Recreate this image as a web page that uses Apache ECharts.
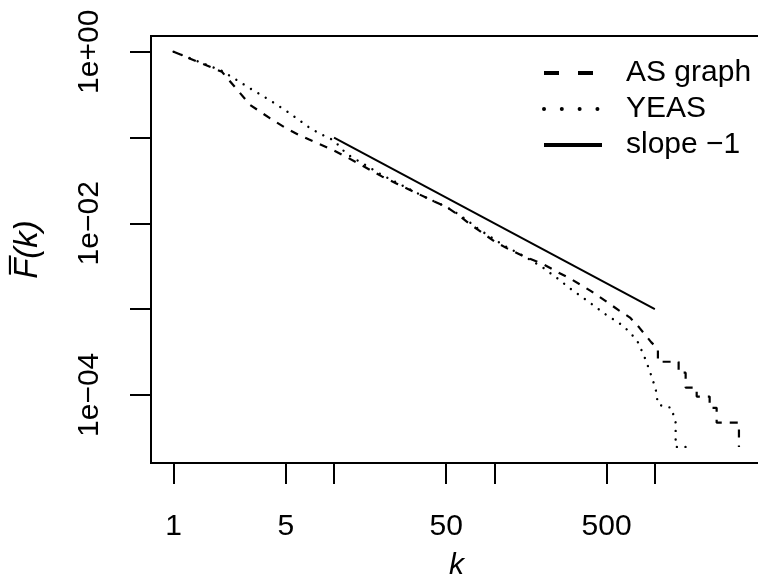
<!DOCTYPE html>
<html><head><meta charset="utf-8">
<script src="https://cdn.jsdelivr.net/npm/echarts@6/dist/echarts.min.js"></script>
<style>html,body{margin:0;padding:0;background:#fff}#c{width:758px;height:581px}</style>
</head><body><div id="c"></div>
<script>
// AS graph complementary CDF (k, F)
const kAS = [1,2,3,4,5,6,7,8,10,12,15,20,25,30,40,50,60,70,80,100,120,150,200,250,300,400,500,600,700,800,951,1045,1045,1407,1407,1556,1556,1823,1823,2196,2196,2428,2428,3344,3344];
const fAS = [1,0.584,0.240,0.167,0.129,0.108,0.0948,0.0851,0.0705,0.0592,0.0471,0.0350,0.0286,0.0243,0.0188,0.0156,0.0124,0.00987,0.00828,0.00615,0.00510,0.00417,0.00336,0.00267,0.00224,0.00162,0.00122,9.6e-4,7.96e-4,6.08e-4,4.09e-4,3.45e-4,2.43e-4,2.43e-4,1.81e-4,1.81e-4,1.21e-4,1.21e-4,9.55e-5,9.55e-5,7.05e-5,7.05e-5,4.74e-5,4.74e-5,2.47e-5];
// YEAS complementary CDF (k, F)
const kYE = [1,2,3,4,5,6,7,8,10,12,15,20,25,30,40,50,60,70,80,100,120,150,200,250,300,400,500,600,700,785,864,928,1012,1045,1151,1267,1348,1348,1728];
const fYE = [1,0.599,0.374,0.271,0.207,0.162,0.131,0.113,0.0922,0.0641,0.0503,0.0364,0.0294,0.0246,0.0188,0.0156,0.0127,0.0103,0.0085,0.0065,0.00524,0.00423,0.00306,0.00224,0.00171,0.00116,8.51e-4,6.86e-4,5.38e-4,4.09e-4,2.73e-4,1.91e-4,1.17e-4,7.78e-5,7.24e-5,7.10e-5,4.74e-5,2.47e-5,2.47e-5];
// reference line of slope -1
const kSlope = [10, 1000];
const fSlope = [0.1, 0.001];
// axis ticks and labels
const xTickValues = [1,5,10,50,100,500,1000];
const xLabelValues = [1,5,50,500];
const yTickValues = [1,1e-1,1e-2,1e-3,1e-4];
const yLabelValues = [1,1e-2,1e-4];
const seriesNames = ['AS graph','YEAS','slope \u22121'];

const L = Math.log10;
const pts = (ks, fs) => ks.map((k,i)=>[L(k), L(fs[i])]);
const FONT = '"Liberation Sans", Arial, Helvetica, sans-serif';
const hiddenSymbol = {color:'rgba(0,0,0,0)', borderColor:'rgba(0,0,0,0)', borderWidth:0, opacity:0};
const chart = echarts.init(document.getElementById('c'), null, {renderer:'canvas'});
chart.setOption({
  animation:false,
  backgroundColor:'#fff',
  grid:{left:151, top:36, width:611, height:427, show:true, borderColor:'#000', borderWidth:2,
    backgroundColor:'transparent', containLabel:false, outerBoundsMode:'none'},
  xAxis:{type:'value', min:-0.141, max:3.668,
    axisLine:{show:false, onZero:false}, splitLine:{show:false},
    axisTick:{show:true, customValues:xTickValues.map(L), length:21, lineStyle:{color:'#000', width:2}},
    axisLabel:{customValues:xLabelValues.map(L), formatter:v=>String(Math.round(Math.pow(10,v))), fontSize:30, color:'#000', fontFamily:FONT, margin:49},
    name:'k', nameLocation:'middle', nameGap:88,
    nameTextStyle:{fontSize:30, fontStyle:'italic', color:'#000', fontFamily:FONT}},
  yAxis:{type:'value', min:-4.795, max:0.184,
    axisLine:{show:false, onZero:false}, splitLine:{show:false},
    axisTick:{show:true, customValues:yTickValues.map(L), length:21, lineStyle:{color:'#000', width:2}},
    axisLabel:{customValues:yLabelValues.map(L), rotate:90, fontSize:30, color:'#000', fontFamily:FONT, margin:46,
      formatter:v=>{const e=Math.round(v); return '1e'+(e>=0?'+':'\u2212')+String(Math.abs(e)).padStart(2,'0');}},
    name:'F\u0305(k)', nameLocation:'middle', nameRotate:90, nameGap:107,
    nameTextStyle:{fontSize:33, fontStyle:'italic', color:'#000', fontFamily:FONT}},
  legend:{orient:'vertical', left:537, top:53, itemWidth:58, itemHeight:30, itemGap:6,
    itemStyle:hiddenSymbol,
    textStyle:{fontSize:30, color:'#000', fontFamily:FONT, padding:[0,0,0,19]},
    data:[
      {name:seriesNames[0], itemStyle:hiddenSymbol, lineStyle:{type:[15,19], width:4, color:'#000'}},
      {name:seriesNames[1], itemStyle:hiddenSymbol, lineStyle:{type:[0.01,17.8], width:4, cap:'round', color:'#000'}},
      {name:seriesNames[2], itemStyle:hiddenSymbol, lineStyle:{width:4, color:'#000'}}
    ]},
  series:[
    {name:seriesNames[0], type:'line', symbol:'none', data:pts(kAS,fAS), lineStyle:{color:'#000', width:2.2, type:[8,8]}, itemStyle:{color:'#000'}},
    {name:seriesNames[1], type:'line', symbol:'none', data:pts(kYE,fYE), lineStyle:{color:'#000', width:2.4, type:[0.01,8.6], cap:'round'}, itemStyle:{color:'#000'}},
    {name:seriesNames[2], type:'line', symbol:'none', data:pts(kSlope,fSlope), lineStyle:{color:'#000', width:2}, itemStyle:{color:'#000'}}
  ]
});
</script></body></html>
